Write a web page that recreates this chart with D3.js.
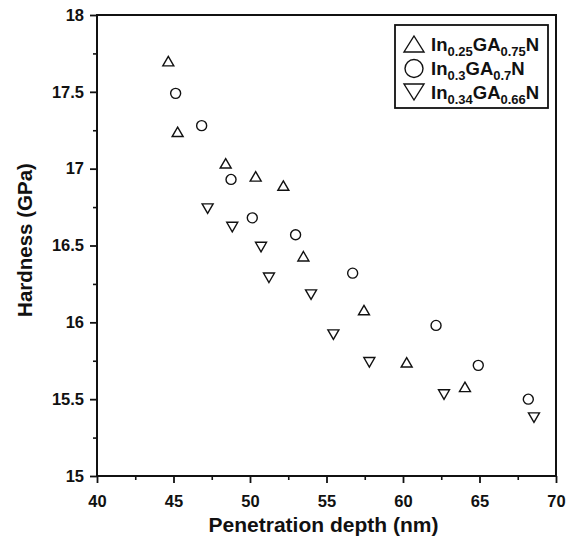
<!DOCTYPE html>
<html>
<head>
<meta charset="utf-8">
<script src="https://cdn.jsdelivr.net/npm/d3@7"></script>
<style>
  body { margin: 0; background: #fff; }
  svg text { font-family: "Liberation Sans", Arial, sans-serif; font-weight: bold; fill: #111; }
</style>
</head>
<body>
<svg id="chart" width="576" height="545"></svg>
<script>
// depth (nm) / hardness (GPa)
var depth25 = [44.66, 45.27, 48.41, 50.37, 52.18, 53.49, 57.45, 60.24, 64.05];
var hard25  = [17.70, 17.24, 17.035, 16.95, 16.89, 16.43, 16.08, 15.74, 15.58];
var depth30 = [45.14, 46.84, 48.76, 50.15, 52.98, 56.71, 62.16, 64.92, 68.19];
var hard30  = [17.49, 17.28, 16.93, 16.68, 16.57, 16.32, 15.98, 15.72, 15.50];
var depth34 = [47.23, 48.84, 50.72, 51.24, 53.99, 55.45, 57.80, 62.68, 68.56];
var hard34  = [16.74, 16.62, 16.49, 16.29, 16.18, 15.92, 15.74, 15.53, 15.38];

var xTicks = [40, 45, 50, 55, 60, 65, 70];
var yTicks = [15, 15.5, 16, 16.5, 17, 17.5, 18];

var legendItems = [
  {shape: "up",   parts: [["In", 0], ["0.25", 1], ["GA", 0], ["0.75", 1], ["N", 0]]},
  {shape: "circ", parts: [["In", 0], ["0.3", 1],  ["GA", 0], ["0.7", 1],  ["N", 0]]},
  {shape: "down", parts: [["In", 0], ["0.34", 1], ["GA", 0], ["0.66", 1], ["N", 0]]}
];

var svg = d3.select("#chart");
var plotL = 97, plotR = 556, plotT = 15, plotB = 476;

var x = d3.scaleLinear().domain([40, 70]).range([plotL, plotR]);
var y = d3.scaleLinear().domain([15, 18]).range([plotB, plotT]);

// minor ticks
svg.append("g")
    .attr("transform", "translate(0," + plotB + ")")
    .call(d3.axisBottom(x).tickValues(d3.range(42.5, 70, 5)).tickSize(4).tickFormat(""))
    .call(g => g.select(".domain").remove())
    .selectAll("line").attr("stroke", "#111").attr("stroke-width", 1.6);

svg.append("g")
    .attr("transform", "translate(" + plotL + ",0)")
    .call(d3.axisLeft(y).tickValues(d3.range(15.25, 18, 0.5)).tickSize(4).tickFormat(""))
    .call(g => g.select(".domain").remove())
    .selectAll("line").attr("stroke", "#111").attr("stroke-width", 1.6);

// major ticks
var xAxis = svg.append("g")
    .attr("transform", "translate(0," + plotB + ")")
    .call(d3.axisBottom(x).tickValues(xTicks).tickSize(7).tickPadding(12).tickFormat(d3.format("d")));
xAxis.select(".domain").remove();
xAxis.selectAll("line").attr("stroke", "#111").attr("stroke-width", 1.8);
xAxis.selectAll("text").attr("font-size", 16.5);

var yAxis = svg.append("g")
    .attr("transform", "translate(" + plotL + ",0)")
    .call(d3.axisLeft(y).tickValues(yTicks).tickSize(7).tickPadding(6).tickFormat(d => d3.format("~g")(d)));
yAxis.select(".domain").remove();
yAxis.selectAll("line").attr("stroke", "#111").attr("stroke-width", 1.8);
yAxis.selectAll("text").attr("font-size", 16.5);

// frame
svg.append("rect")
    .attr("x", plotL).attr("y", plotT)
    .attr("width", plotR - plotL).attr("height", plotB - plotT)
    .attr("fill", "none").attr("stroke", "#111").attr("stroke-width", 2);

// axis titles
svg.append("text")
    .attr("x", (plotL + plotR) / 2 - 3)
    .attr("y", 532)
    .attr("text-anchor", "middle")
    .attr("font-size", 21)
    .text("Penetration depth (nm)");

svg.append("text")
    .attr("transform", "translate(32,240) rotate(-90)")
    .attr("text-anchor", "middle")
    .attr("font-size", 20.5)
    .text("Hardness (GPa)");

// marker paths, centred on their bounding box
function marker(shape, w, h) {
  if (shape === "up") return "M0," + (-h / 2) + "L" + (w / 2) + "," + (h / 2) + "L" + (-w / 2) + "," + (h / 2) + "Z";
  if (shape === "down") return "M0," + (h / 2) + "L" + (w / 2) + "," + (-h / 2) + "L" + (-w / 2) + "," + (-h / 2) + "Z";
  return null;
}

function drawSeries(xs, ys, shape) {
  var pts = xs.map((d, i) => ({x: d, y: ys[i]}));
  var g = svg.append("g");
  if (shape === "circ") {
    g.selectAll("circle").data(pts).enter().append("circle")
      .attr("cx", d => x(d.x)).attr("cy", d => y(d.y))
      .attr("r", 5)
      .attr("fill", "none").attr("stroke", "#111").attr("stroke-width", 1.4);
  } else {
    g.selectAll("path").data(pts).enter().append("path")
      .attr("transform", d => "translate(" + x(d.x) + "," + y(d.y) + ")")
      .attr("d", marker(shape, 11, 9.5))
      .attr("fill", "none").attr("stroke", "#111").attr("stroke-width", 1.4)
      .attr("stroke-linejoin", "miter");
  }
}

drawSeries(depth25, hard25, "up");
drawSeries(depth30, hard30, "circ");
drawSeries(depth34, hard34, "down");

// legend
var legend = svg.append("g");
legend.append("rect")
    .attr("x", 395).attr("y", 25)
    .attr("width", 153).attr("height", 83)
    .attr("fill", "#fff").attr("stroke", "#111").attr("stroke-width", 1.8);

var rowY = [44, 68.5, 92];
legendItems.forEach(function(item, i) {
  var cy = rowY[i];
  if (item.shape === "circ") {
    legend.append("circle").attr("cx", 414).attr("cy", cy).attr("r", 9)
      .attr("fill", "none").attr("stroke", "#111").attr("stroke-width", 1.4);
  } else {
    legend.append("path")
      .attr("transform", "translate(414," + cy + ")")
      .attr("d", marker(item.shape, 20, 16))
      .attr("fill", "none").attr("stroke", "#111").attr("stroke-width", 1.4);
  }
  var t = legend.append("text")
      .attr("x", 431).attr("y", cy + 6.5)
      .attr("font-size", 18.5);
  var prevSub = 0;
  item.parts.forEach(function(p) {
    var shift = (p[1] ? 5 : 0) - (prevSub ? 5 : 0);
    t.append("tspan")
      .attr("dy", shift)
      .attr("font-size", p[1] ? 13 : 18.5)
      .text(p[0]);
    prevSub = p[1];
  });
});
</script>
</body>
</html>
